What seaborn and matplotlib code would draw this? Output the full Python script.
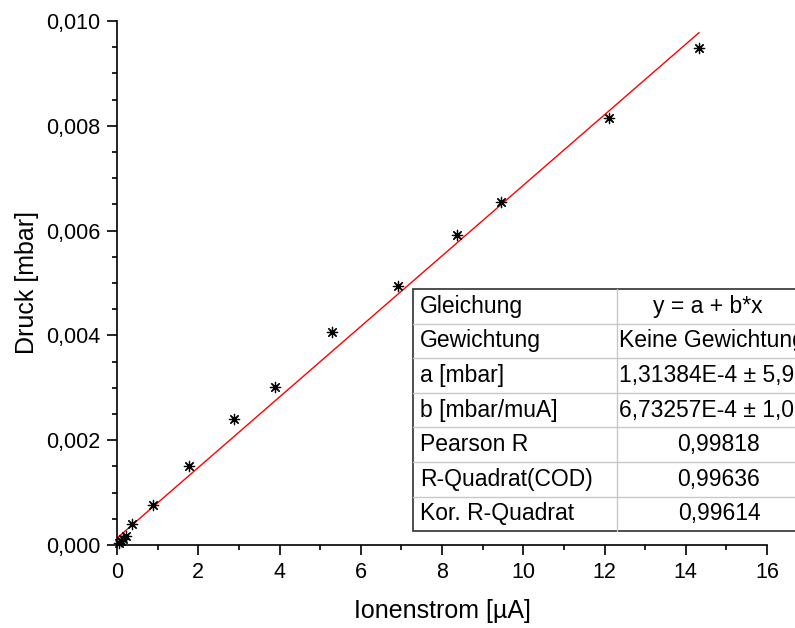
import matplotlib
matplotlib.use("Agg")
import matplotlib.pyplot as plt
from matplotlib import ticker
from matplotlib.patches import Rectangle
from matplotlib.lines import Line2D
import pandas as pd
import seaborn as sns

# Measured ion current vs. pressure
current_uA = [0.05, 0.10, 0.15, 0.22, 0.37, 0.88, 1.78, 2.89, 3.88,
              5.30, 6.91, 8.37, 9.46, 12.12, 14.33]
pressure_mbar = [0.00004, 0.00008, 0.00012, 0.00018, 0.00040, 0.00076,
                 0.00150, 0.00240, 0.00302, 0.00407, 0.00494, 0.00592,
                 0.00655, 0.00814, 0.00948]

# Linear fit parameters y = a + b*x
fit_a = 1.31384e-4
fit_b = 6.73257e-4

# Fit summary table
table_labels = ["Gleichung", "Gewichtung", "a [mbar]", "b [mbar/muA]",
                "Pearson R", "R-Quadrat(COD)", "Kor. R-Quadrat"]
table_values = ["y = a + b*x", "Keine Gewichtung", "1,31384E-4 ± 5,9",
                "6,73257E-4 ± 1,0", "0,99818", "0,99636", "0,99614"]

sns.set_style("ticks")
plt.rcParams["font.family"] = ["Liberation Sans", "DejaVu Sans"]
plt.rcParams.update({
    "text.color": "black",
    "axes.labelcolor": "black",
    "xtick.color": "black",
    "ytick.color": "black",
    "axes.edgecolor": "black",
})

W, H = 795, 628
fig = plt.figure(figsize=(W / 100, H / 100), dpi=100)
ax = fig.add_axes([117 / W, 1 - 545 / H, 650 / W, 524 / H])

df = pd.DataFrame({"I": current_uA, "p": pressure_mbar})
line_df = pd.DataFrame({"I": [0.0, max(current_uA)]})
line_df["p"] = fit_a + fit_b * line_df["I"]

sns.lineplot(data=line_df, x="I", y="p", color="#ff0000", linewidth=1.0,
             ax=ax, zorder=2)
sns.scatterplot(data=df, x="I", y="p", marker=(8, 2, 0), s=55,
                color="black", edgecolor="black", linewidth=0.9,
                ax=ax, zorder=3, clip_on=False)

ax.set_xlim(0, 16)
ax.set_ylim(0, 0.010)
ax.xaxis.set_major_locator(ticker.MultipleLocator(2))
ax.xaxis.set_minor_locator(ticker.MultipleLocator(1))
ax.yaxis.set_major_locator(ticker.MultipleLocator(0.002))
ax.yaxis.set_minor_locator(ticker.MultipleLocator(0.0005))
ax.xaxis.set_major_formatter(ticker.FuncFormatter(lambda v, p: f"{v:g}"))
ax.yaxis.set_major_formatter(
    ticker.FuncFormatter(lambda v, p: f"{v:.3f}".replace(".", ",")))

sns.despine(ax=ax)
for side in ("left", "bottom"):
    ax.spines[side].set_linewidth(1.2)
    ax.spines[side].set_color("black")
ax.tick_params(which="major", direction="out", length=7.5, width=1.2,
               labelsize=15.5, pad=4.5, color="black", labelcolor="black")
ax.tick_params(which="minor", direction="out", length=3.8, width=1.2,
               color="black")

ax.set_xlabel("Ionenstrom [µA]", fontsize=18, labelpad=12)
ax.set_ylabel("Druck [mbar]", fontsize=18, labelpad=5)


def fx(px):
    return px / W


def fy(py):
    return 1 - py / H


# Fit summary table drawn in figure pixel coordinates
t_left, t_mid, t_right = 413, 617, 815
t_top, row_h = 289, 34.6
n_rows = len(table_labels)
t_bot = t_top + n_rows * row_h

fig.patches.append(Rectangle((fx(t_left), fy(t_bot)), fx(t_right - t_left),
                             (t_bot - t_top) / H, transform=fig.transFigure,
                             facecolor="white", edgecolor="#404040",
                             linewidth=1.3, zorder=5))
for i in range(1, n_rows):
    yy = fy(t_top + i * row_h)
    fig.lines.append(Line2D([fx(t_left), fx(t_right)], [yy, yy],
                            transform=fig.transFigure, color="#c8c8c8",
                            linewidth=1.0, zorder=6))
fig.lines.append(Line2D([fx(t_mid), fx(t_mid)], [fy(t_top), fy(t_bot)],
                        transform=fig.transFigure, color="#c8c8c8",
                        linewidth=1.0, zorder=6))

for i, (lab, val) in enumerate(zip(table_labels, table_values)):
    yc = fy(t_top + (i + 0.5) * row_h)
    fig.text(fx(t_left + 7), yc, lab, fontsize=16.5, va="center",
             ha="left", zorder=7)
    if i in (1, 2, 3):
        fig.text(fx(t_mid + 2), yc, val, fontsize=16.5, va="center",
                 ha="left", zorder=7)
    else:
        xc = 708 if i == 0 else 719
        fig.text(fx(xc), yc, val, fontsize=16.5, va="center",
                 ha="center", zorder=7)

fig.savefig("out.png", dpi=100)
